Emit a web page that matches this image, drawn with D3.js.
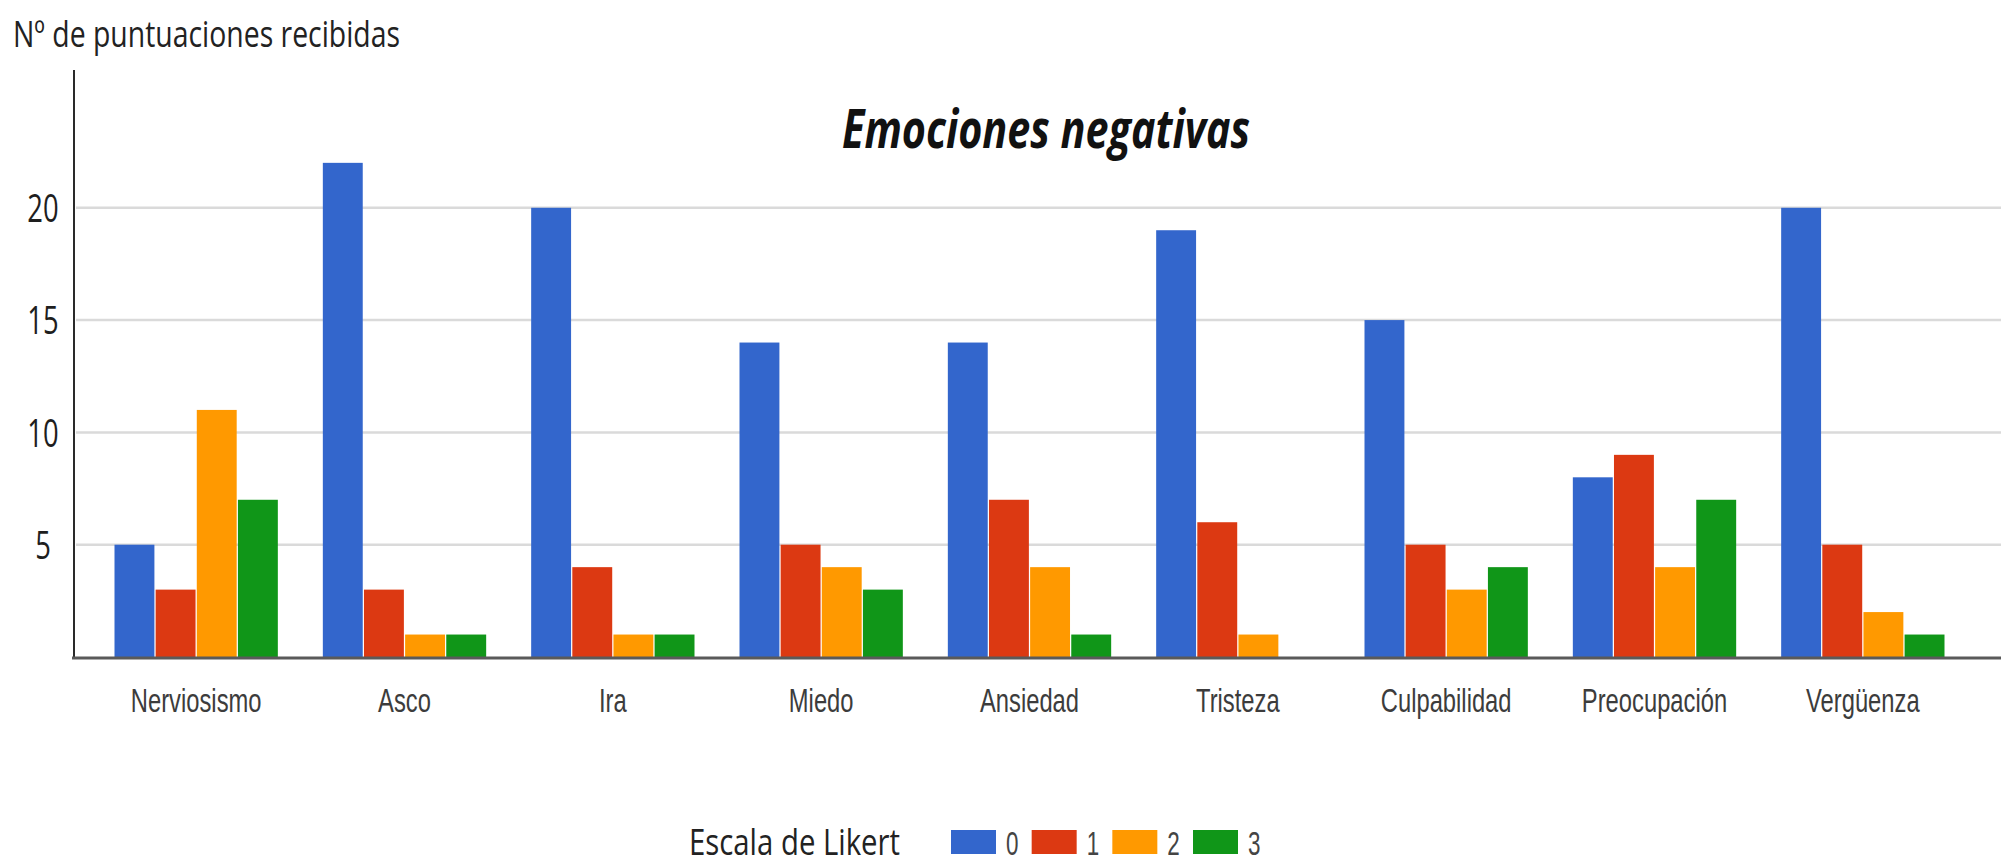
<!DOCTYPE html>
<html>
<head>
<meta charset="utf-8">
<script src="https://cdn.jsdelivr.net/npm/d3@7"></script>
<style>
  html, body { margin: 0; padding: 0; background: #ffffff; }
  svg { display: block; }
</style>
</head>
<body>
<svg id="chart" width="2001" height="868"></svg>
<script>
// ---- Data ----
const categories = ["Nerviosismo", "Asco", "Ira", "Miedo", "Ansiedad", "Tristeza", "Culpabilidad", "Preocupación", "Vergüenza"];
const likertLevels = ["0", "1", "2", "3"];
const level0 = [5, 22, 20, 14, 14, 19, 15, 8, 20];
const level1 = [3, 3, 4, 5, 7, 6, 5, 9, 5];
const level2 = [11, 1, 1, 4, 4, 1, 3, 4, 2];
const level3 = [7, 1, 1, 3, 1, 0, 4, 7, 1];
const yTicks = [5, 10, 15, 20];
const chartTitle = "Emociones negativas";
const yAxisTitle = "Nº de puntuaciones recibidas";
const legendTitle = "Escala de Likert";

// ---- Styling ----
const seriesColors = ["#3366cc", "#dc3912", "#ff9900", "#109618"];
const series = [level0, level1, level2, level3];

const plot = { left: 74, right: 2001, top: 70, bottom: 657 };

const svg = d3.select("#chart");

// Squeeze text horizontally (narrow lettering) by a factor of its natural width
function squeeze(sel, k) {
  sel.each(function () {
    const w = this.getComputedTextLength();
    d3.select(this).attr("textLength", w * k).attr("lengthAdjust", "spacingAndGlyphs");
  });
}
function fitWidth(sel, w) {
  sel.attr("textLength", w).attr("lengthAdjust", "spacingAndGlyphs");
}

// ---- Scales ----
const x0 = d3.scaleBand()
  .domain(categories)
  .range([92, 1967])
  .paddingInner(0.216)
  .paddingOuter(0.108);

const x1 = d3.scaleBand()
  .domain(likertLevels)
  .range([0, x0.bandwidth()])
  .paddingInner(0.03);

const y = d3.scaleLinear()
  .domain([0, 26])
  .range([plot.bottom, plot.top + 3]);

// ---- Gridlines ----
svg.append("g")
  .attr("class", "grid")
  .selectAll("line")
  .data(yTicks)
  .join("line")
  .attr("x1", plot.left + 2)
  .attr("x2", plot.right)
  .attr("y1", d => y(d))
  .attr("y2", d => y(d))
  .attr("stroke", "#dadada")
  .attr("stroke-width", 2.5);

// ---- Y axis (vertical rule + tick labels) ----
const yAxis = d3.axisLeft(y).tickValues(yTicks).tickSize(0).tickPadding(0);
const yG = svg.append("g")
  .attr("transform", `translate(${plot.left},0)`)
  .call(yAxis);
yG.select(".domain").remove();
yG.selectAll(".tick text")
  .attr("x", 43 - plot.left)
  .attr("text-anchor", "middle")
  .attr("dy", "0.36em")
  .attr("fill", "#1e1e1e")
  .style("font-family", "'Open Sans', sans-serif")
  .style("font-size", "38px")
  .call(squeeze, 0.72);

svg.append("line")
  .attr("x1", plot.left).attr("x2", plot.left)
  .attr("y1", plot.top).attr("y2", plot.bottom + 1)
  .attr("stroke", "#2a2a2a")
  .attr("stroke-width", 2);

// ---- Bars ----
const groups = svg.append("g")
  .selectAll("g")
  .data(categories)
  .join("g")
  .attr("transform", d => `translate(${x0(d)},0)`);

groups.selectAll("rect")
  .data((d, i) => likertLevels.map((lvl, s) => ({ lvl, value: series[s][i], color: seriesColors[s] })))
  .join("rect")
  .attr("x", d => x1(d.lvl))
  .attr("width", x1.bandwidth())
  .attr("y", d => y(d.value))
  .attr("height", d => y(0) - y(d.value))
  .attr("fill", d => d.color);

// ---- X axis (baseline + category labels) ----
const xAxis = d3.axisBottom(x0).tickSize(0).tickPadding(0);
const xG = svg.append("g")
  .attr("transform", `translate(0,${plot.bottom})`)
  .call(xAxis);
xG.select(".domain").remove();
xG.selectAll(".tick text")
  .attr("y", 55)
  .attr("dy", 0)
  .attr("fill", "#3c3c3c")
  .style("font-family", "'Liberation Sans', Arial, sans-serif")
  .style("font-size", "33px")
  .call(squeeze, 0.72);

svg.append("line")
  .attr("x1", plot.left - 2).attr("x2", plot.right)
  .attr("y1", plot.bottom + 1).attr("y2", plot.bottom + 1)
  .attr("stroke", "#5a5a5a")
  .attr("stroke-width", 3);

// ---- Titles ----
svg.append("text")
  .attr("x", 842)
  .attr("y", 148)
  .attr("fill", "#111")
  .style("font-family", "'Open Sans', sans-serif")
  .style("font-size", "54px")
  .style("font-weight", "bold")
  .style("font-style", "italic")
  .text(chartTitle)
  .call(fitWidth, 408);

svg.append("text")
  .attr("x", 13)
  .attr("y", 47)
  .attr("fill", "#222")
  .style("font-family", "'Open Sans', sans-serif")
  .style("font-size", "37px")
  .text(yAxisTitle)
  .call(fitWidth, 387);

// ---- Legend ----
const legend = svg.append("g");
legend.append("text")
  .attr("x", 689)
  .attr("y", 855)
  .attr("fill", "#222")
  .style("font-family", "'Open Sans', sans-serif")
  .style("font-size", "36px")
  .text(legendTitle)
  .call(fitWidth, 211);

const legendX = d3.scalePoint()
  .domain(likertLevels)
  .range([951, 1193]);

const items = legend.selectAll("g.item")
  .data(likertLevels)
  .join("g")
  .attr("class", "item")
  .attr("transform", d => `translate(${legendX(d)},830)`);

items.append("rect")
  .attr("width", 45)
  .attr("height", 24)
  .attr("fill", (d, i) => seriesColors[i]);

items.append("text")
  .attr("x", 55)
  .attr("y", 25)
  .attr("fill", "#444")
  .style("font-family", "'Liberation Sans', Arial, sans-serif")
  .style("font-size", "33px")
  .text(d => d)
  .call(squeeze, 0.68);
</script>
</body>
</html>
